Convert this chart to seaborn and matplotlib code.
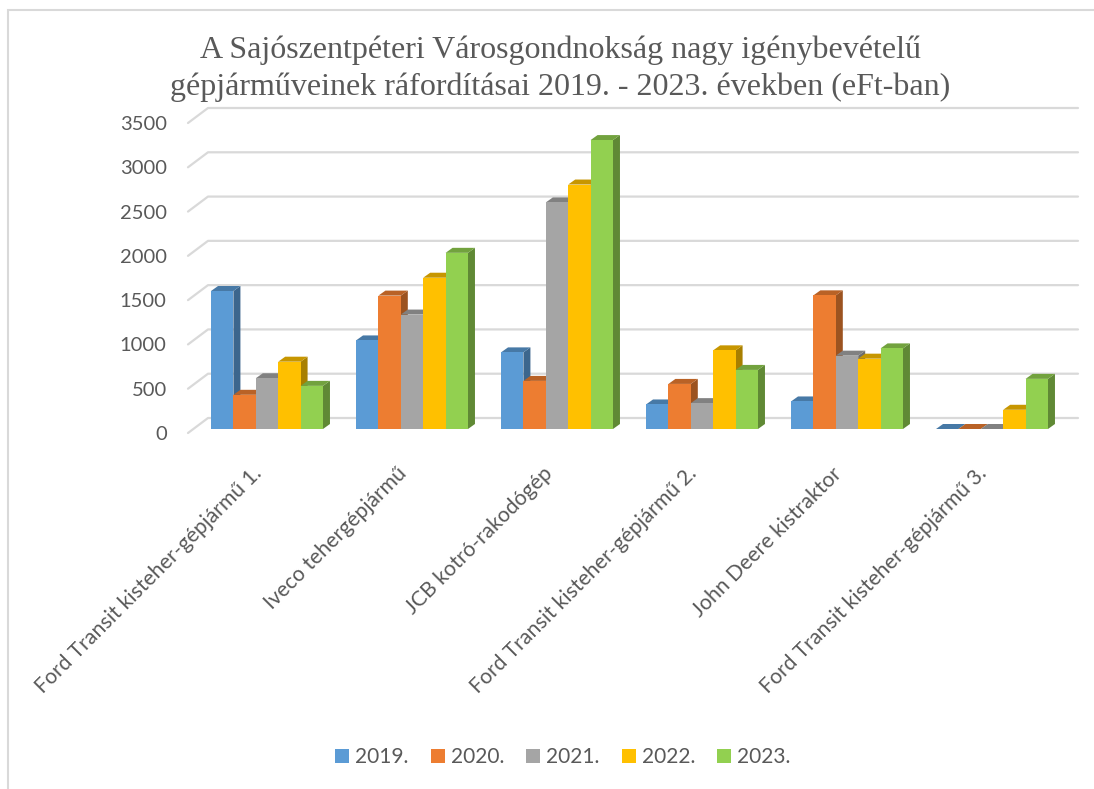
import matplotlib
matplotlib.use("Agg")
import matplotlib.pyplot as plt
from matplotlib.patches import Polygon, Rectangle
from matplotlib.lines import Line2D
from matplotlib.transforms import IdentityTransform, ScaledTranslation
import matplotlib.colors as mcolors
import numpy as np
import pandas as pd
import seaborn as sns

categories = [
    "Ford Transit kisteher-gépjármű 1.",
    "Iveco tehergépjármű",
    "JCB kotró-rakodógép",
    "Ford Transit kisteher-gépjármű 2.",
    "John Deere kistraktor",
    "Ford Transit kisteher-gépjármű 3.",
]
years = ["2019.", "2020.", "2021.", "2022.", "2023."]
v2019 = [1558, 1000, 865, 277, 311, 0]
v2020 = [386, 1506, 543, 509, 1509, 0]
v2021 = [573, 1292, 2558, 292, 828, 0]
v2022 = [760, 1708, 2760, 888, 794, 217]
v2023 = [487, 1989, 3262, 667, 910, 566]
yticks = [0, 500, 1000, 1500, 2000, 2500, 3000, 3500]
colors = ["#5B9BD5", "#ED7D31", "#A5A5A5", "#FFC000", "#92D050"]
title = ("A Sajószentpéteri Városgondnokság nagy igénybevételű\n"
         "gépjárműveinek ráfordításai 2019. - 2023. években (eFt-ban)")

series = [v2019, v2020, v2021, v2022, v2023]
rows = []
for y, vals in zip(years, series):
    for c, v in zip(categories, vals):
        rows.append({"cat": c, "year": y, "value": v})
df = pd.DataFrame(rows)

sns.set_theme(style="white")
plt.rcParams["font.family"] = ["Lato", "DejaVu Sans"]
TXT = "#595959"

W, H = 1094, 789
fig = plt.figure(figsize=(W / 100, H / 100), dpi=100)
ax_l, ax_r, ax_b, ax_t = 194.5, 1064.5, 433, 123
ax = fig.add_axes([ax_l / W, 1 - ax_b / H, (ax_r - ax_l) / W, (ax_b - ax_t) / H])

sns.barplot(data=df, x="cat", y="value", hue="year", order=categories,
            hue_order=years, palette=colors, saturation=1, width=0.772,
            edgecolor="none", linewidth=0, ax=ax)

ax.set_xlim(-0.5, len(categories) - 0.5)
ax.set_ylim(0, 3500)
ax.set_yticks(yticks)
ax.set_yticklabels([str(t) for t in yticks])
for s in ax.spines.values():
    s.set_visible(False)
ax.set_xlabel("")
ax.set_ylabel("")
ax.tick_params(axis="y", length=0, pad=20, labelsize=14.5, labelcolor=TXT)
ax.tick_params(axis="x", length=0, pad=14, labelsize=15.2, labelcolor=TXT)
ax.set_xticks(range(len(categories)))
ax.set_xticklabels(categories, rotation=45, ha="right", va="center",
                   rotation_mode="anchor")
shift = ScaledTranslation(-8 / 100, -18 / 100, fig.dpi_scale_trans)
for lbl in ax.get_xticklabels():
    lbl.set_transform(lbl.get_transform() + shift)
ax.patch.set_visible(False)

# 3D-like gridlines (wall slant + back line)
GDX_F, GDX_B, GDY = -6.5, 13.5, 15
for v in yticks:
    xa0, yd = ax.transData.transform((-0.5, v))
    xa1, _ = ax.transData.transform((len(categories) - 0.5, v))
    line = Line2D([xa0 + GDX_F, xa0 + GDX_B, xa1 + GDX_B],
                  [yd, yd + GDY, yd + GDY], transform=IdentityTransform(),
                  color="#D9D9D9", lw=1.6, zorder=0.5, clip_on=False)
    ax.add_line(line)

# bars: shift fronts up a few px and add side/top faces
LIFT, DX, DY = 4, 7, 5
lift_tr = ax.transData + ScaledTranslation(0, LIFT / 100, fig.dpi_scale_trans)


def shade(c, f):
    r, g, b = mcolors.to_rgb(c)
    return (r * f, g * f, b * f)


for j, cont in enumerate(ax.containers):
    col = colors[j]
    for p in cont.patches:
        p.set_transform(lift_tr)
        p.set_zorder(2 + j * 0.1 + 0.05)
        x0, x1 = p.get_x(), p.get_x() + p.get_width()
        h = p.get_height()
        (px0, pb), (px1, pt) = lift_tr.transform([(x0, 0), (x1, h)])
        side = Polygon([(px1, pb), (px1 + DX, pb + DY), (px1 + DX, pt + DY), (px1, pt)],
                       closed=True, transform=IdentityTransform(),
                       facecolor=shade(col, 0.66), edgecolor="none",
                       zorder=2 + j * 0.1, clip_on=False)
        top = Polygon([(px0, pt), (px0 + DX, pt + DY), (px1 + DX, pt + DY), (px1, pt)],
                      closed=True, transform=IdentityTransform(),
                      facecolor=shade(col, 0.78), edgecolor="none",
                      zorder=2 + j * 0.1 + 0.01, clip_on=False)
        ax.add_patch(side)
        ax.add_patch(top)

fig.text(560 / W, 1 - 69 / H, title, ha="center", va="center",
         family=["Liberation Serif", "DejaVu Serif"], fontsize=23,
         color=TXT, linespacing=1.32)

sns.move_legend(ax, loc="center", bbox_to_anchor=(563 / W, 1 - 757 / H),
                bbox_transform=fig.transFigure, ncol=5, frameon=False,
                title=None, fontsize=15, handlelength=0.67, handleheight=0.67,
                handletextpad=0.29, columnspacing=1.06, labelcolor=TXT)

fig.patches.append(Rectangle((8 / W, -0.1), 1.2, 1 - 10 / H + 0.1,
                             transform=fig.transFigure, fill=False,
                             edgecolor="#D9D9D9", lw=1.5))

fig.savefig("out.png", dpi=100)
